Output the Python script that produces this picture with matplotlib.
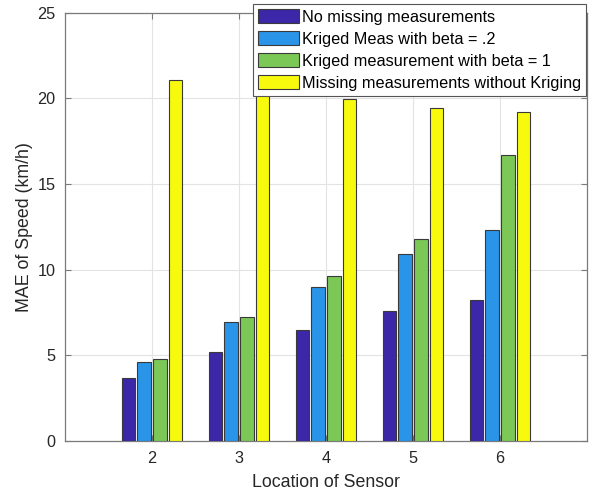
import numpy as np
import matplotlib
matplotlib.use("Agg")
import matplotlib.pyplot as plt

# Sensor locations on the x axis
locations = [2, 3, 4, 5, 6]

# MAE of speed (km/h) for each case
no_missing = [3.65, 5.17, 6.45, 7.57, 8.23]
kriged_beta_02 = [4.64, 6.92, 8.97, 10.94, 12.29]
kriged_beta_1 = [4.76, 7.23, 9.62, 11.79, 16.68]
missing_no_kriging = [21.05, 20.6, 19.95, 19.44, 19.23]

series_labels = [
    "No missing measurements",
    "Kriged Meas with beta = .2",
    "Kriged measurement with beta = 1",
    "Missing measurements without Kriging",
]
series_colors = ["#3B27A8", "#2A94E8", "#7CC857", "#F8FA0E"]

plt.rcParams["font.family"] = ["Liberation Sans", "DejaVu Sans"]

fig = plt.figure(figsize=(5.97, 4.98), dpi=100)
ax = fig.add_axes([65 / 597, 57 / 498, 522 / 597, 428.3 / 498])

series = [no_missing, kriged_beta_02, kriged_beta_1, missing_no_kriging]
offsets = [-0.27, -0.09, 0.09, 0.27]
x = np.array(locations, dtype=float)

for vals, off, col, lab in zip(series, offsets, series_colors, series_labels):
    ax.bar(x + off, vals, width=0.155, color=col, edgecolor="#3a3a3a",
           linewidth=0.8, label=lab, zorder=3)

ax.set_xlim(1, 7)
ax.set_ylim(0, 25)
ax.set_xticks(locations)
ax.set_yticks([0, 5, 10, 15, 20, 25])

# MATLAB-ish look: grid, boxed axes, inward ticks on all sides
ax.grid(True, color="#e3e3e3", linewidth=0.8, zorder=0)
for sp in ax.spines.values():
    sp.set_color("#7a7a7a")
    sp.set_linewidth(0.9)
ax.tick_params(direction="in", length=4, width=0.8, color="#7a7a7a",
               top=True, right=True, labelsize=11.7, labelcolor="#262626",
               pad=7)

ax.set_xlabel("Location of Sensor", fontsize=12.8, color="#262626", labelpad=6)
ax.set_ylabel("MAE of Speed (km/h)", fontsize=12.8, color="#262626", labelpad=3)

leg = ax.legend(loc="upper right", bbox_to_anchor=(586 / 597, 494 / 498),
                bbox_transform=fig.transFigure, fontsize=11.7,
                fancybox=False, framealpha=1, edgecolor="#555555",
                borderpad=0.3, borderaxespad=0, labelspacing=0.38,
                handlelength=2.5, handleheight=1.0, handletextpad=0.2)
leg.get_frame().set_linewidth(0.8)
leg.set_zorder(5)

fig.savefig("out.png", dpi=100)
plt.close(fig)
